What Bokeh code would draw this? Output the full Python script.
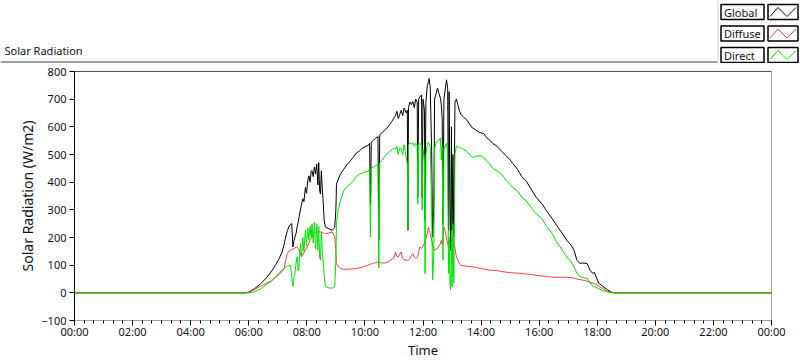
from bokeh.plotting import figure
from bokeh.layouts import column
from bokeh.models import ColumnDataSource, FixedTicker, Range1d, Span
from bokeh.core.properties import value
from bokeh.embed import file_html
from bokeh.resources import INLINE

# ---------------- data ----------------
hours = [0.0, 5.9, 6.0, 6.2, 6.4, 6.6, 6.8, 6.92, 7.05, 7.15, 7.22, 7.27, 7.33, 7.38, 7.44,
         7.48, 7.52, 7.56, 7.59, 7.63, 7.67, 7.7, 7.73, 7.78, 7.82, 7.86, 7.9, 7.95, 7.99,
         8.03, 8.07, 8.11, 8.15, 8.18, 8.22, 8.26, 8.3, 8.34, 8.38, 8.41, 8.44, 8.47, 8.5,
         8.53, 8.56, 8.6, 8.64, 8.75, 8.87, 8.96, 9.0, 9.02, 9.08, 9.16, 9.27, 9.4, 9.5,
         9.6, 9.7, 9.8, 9.9, 10.0, 10.1, 10.16, 10.19, 10.22, 10.3, 10.38, 10.45, 10.48,
         10.51, 10.6, 10.7, 10.8, 10.9, 11.0, 11.05, 11.1, 11.15, 11.2, 11.25, 11.3, 11.35,
         11.42, 11.46, 11.48, 11.5, 11.55, 11.6, 11.65, 11.7, 11.75, 11.8, 11.82, 11.85,
         11.9, 11.95, 11.97, 12.0, 12.05, 12.07, 12.1, 12.15, 12.19, 12.21, 12.25, 12.3,
         12.33, 12.37, 12.4, 12.45, 12.5, 12.55, 12.6, 12.63, 12.66, 12.69, 12.72, 12.77,
         12.81, 12.85, 12.88, 12.9, 12.93, 12.95, 12.98, 13.0, 13.03, 13.06, 13.1, 13.15,
         13.2, 13.25, 13.3, 13.4, 13.5, 13.6, 13.7, 13.8, 13.9, 14.0, 14.1, 14.2, 14.3,
         14.4, 14.55, 14.7, 14.85, 15.0, 15.1, 15.25, 15.4, 15.55, 15.75, 15.9, 16.1,
         16.25, 16.45, 16.6, 16.8, 16.95, 17.1, 17.2, 17.3, 17.4, 17.5, 17.65, 17.75,
         17.85, 17.9, 18.05, 18.2, 18.35, 18.5, 18.6, 24.0]

global_rad = [0, 0, 3, 15, 32, 53, 80, 100, 125, 148, 175, 202, 225, 238, 248,
              250, 166, 190, 202, 215, 240, 255, 273, 300, 320, 340, 330, 381, 360,
              405, 423, 400, 440, 441, 420, 455, 430, 465, 390, 471, 370, 357, 441,
              380, 333, 260, 238, 232, 226, 235, 300, 393, 410, 430, 447, 465, 477,
              490, 505, 512, 522, 528, 532, 540, 321, 545, 552, 560, 565, 190,
              572, 580, 590, 600, 615, 632, 640, 656, 630, 645, 660, 640, 668,
              650, 660, 226, 670, 690, 680, 692, 670, 700, 690, 345, 700,
              710, 715, 345, 700, 660, 262, 690, 750, 763, 775, 740, 502,
              202, 300, 700, 720, 740, 720, 704, 680, 630, 250, 700, 740,
              770, 740, 226, 727, 300, 154, 600, 226, 500, 202, 690, 700,
              680, 660, 645, 635, 626, 610, 596, 590, 582, 578, 575, 560, 552,
              540, 530, 512, 497, 480, 467, 447, 420, 405, 370, 345, 321,
              297, 268, 244, 214, 190, 172, 154, 118, 106, 108, 106, 82,
              70, 74, 35, 23, 11, 2, 0, 0]

diffuse_rad = [0, 0, 2, 12, 24, 34, 44, 56, 66, 78, 90, 118, 142, 150, 154,
               156, 158, 160, 162, 165, 166, 160, 154, 140, 132, 135, 145, 154, 160,
               170, 178, 190, 196, 202, 210, 215, 218, 220, 220, 220, 220, 220, 220,
               218, 216, 215, 214, 216, 220, 202, 150, 106, 95, 88, 85, 85, 86,
               87, 88, 90, 93, 96, 100, 103, 104, 104, 106, 110, 112, 112,
               110, 108, 108, 112, 120, 126, 148, 132, 130, 140, 148, 125, 120,
               118, 117, 116, 118, 125, 135, 142, 130, 124, 128, 130, 150,
               166, 160, 162, 170, 180, 190, 195, 215, 238, 225, 214, 190,
               172, 160, 154, 158, 160, 170, 177, 190, 175, 190, 238, 220,
               200, 175, 185, 190, 180, 175, 185, 190, 200, 185, 160, 130,
               118, 105, 100, 98, 96, 95, 94, 92, 90, 88, 86, 84, 82,
               81, 80, 77, 75, 73, 72, 71, 70, 68, 66, 63, 61,
               59, 57, 56, 56, 56, 55, 53, 50, 48, 46, 42, 38,
               35, 33, 25, 15, 6, 1, 0, 0]

direct_rad = [0, 0, 0, 4, 14, 29, 45, 58, 72, 82, 88, 92, 96, 98, 100,
              60, 23, 60, 70, 110, 130, 80, 94, 178, 130, 200, 150, 226, 170,
              235, 190, 240, 200, 250, 180, 255, 160, 250, 154, 240, 130, 118, 220,
              150, 118, 60, 23, 18, 17, 22, 120, 250, 300, 333, 369, 385, 393,
              405, 420, 428, 433, 437, 440, 445, 202, 450, 455, 460, 465, 90,
              471, 480, 495, 506, 515, 524, 520, 530, 500, 523, 520, 500, 535,
              490, 468, 226, 535, 540, 538, 543, 530, 540, 535, 321, 540,
              538, 535, 300, 520, 480, 70, 500, 538, 545, 540, 530, 300,
              47, 130, 520, 545, 548, 550, 560, 480, 530, 118, 520, 530,
              540, 500, 70, 200, 30, 11, 226, 23, 250, 35, 500, 530,
              528, 526, 524, 518, 512, 500, 489, 493, 495, 495, 488, 475, 465,
              450, 441, 429, 408, 392, 380, 369, 345, 333, 305, 286, 268,
              240, 214, 184, 154, 130, 112, 95, 70, 60, 55, 52, 36,
              25, 22, 15, 8, 3, 0, 0, 0]

x_tick_values = [0, 2, 4, 6, 8, 10, 12, 14, 16, 18, 20, 22, 24]
x_tick_labels = ["00:00", "02:00", "04:00", "06:00", "08:00", "10:00", "12:00",
                 "14:00", "16:00", "18:00", "20:00", "22:00", "00:00"]
y_tick_values = [-100, 0, 100, 200, 300, 400, 500, 600, 700, 800]
series_names = ["Global", "Diffuse", "Direct"]
series_keys = ["global_rad", "diffuse_rad", "direct_rad"]
series_colors = ["#000000", "#ff4040", "#00e000"]
chart_title = "Solar Radiation"

# ---------------- layout constants ----------------
W = 800
HDR_H = 63
MAIN_H = 298
FONT = "Noto Sans"
TXT = "#101018"

# ---------------- header: title + LabVIEW-style legend ----------------
hdr = figure(width=W, height=HDR_H, output_backend="svg", toolbar_location=None,
             title=None, x_range=Range1d(0, W), y_range=Range1d(HDR_H, 0),
             min_border=0, x_axis_type=None, y_axis_type=None)
hdr.frame_align = False
hdr.outline_line_color = None
hdr.grid.visible = False
hdr.background_fill_color = "white"
hdr.border_fill_color = "white"

# top edge of the chart panel
hdr.segment(x0=[0], y0=[61.5], x1=[717], y1=[61.5], line_color="#a0a0a0", line_width=2)
hdr.text(x=[4], y=[50], text=[chart_title], text_font=value(FONT),
         text_font_size=value("11px"), text_color=TXT,
         text_baseline="middle", text_align="left")

# legend panel
hdr.quad(left=[717.5], right=[W + 2], top=[-2], bottom=[HDR_H - 0.5],
         fill_color="white", line_color="#d0d0d0", line_width=1)
row_tops = [4, 25.5, 47]
box_h = 15
name_l, name_r = 720.5, 763.5
glyph_l, glyph_r = 767.5, 797.5
hdr.quad(left=[name_l] * 3, right=[name_r] * 3, top=row_tops,
         bottom=[t + box_h for t in row_tops], fill_color="white",
         line_color="black", line_width=1.5)
hdr.quad(left=[glyph_l] * 3, right=[glyph_r] * 3, top=row_tops,
         bottom=[t + box_h for t in row_tops], fill_color="white",
         line_color="black", line_width=1.5)
hdr.text(x=[name_l + 3] * 3, y=[t + box_h / 2 for t in row_tops], text=series_names,
         text_font=value(FONT), text_font_size=value("11px"), text_color=TXT,
         text_baseline="middle", text_align="left")
zig_xs = [[glyph_l + 2, glyph_l + 10, glyph_l + 19, glyph_l + 28] for _ in row_tops]
zig_ys = [[t + 12, t + 3, t + 12, t + 3] for t in row_tops]
hdr.multi_line(xs=zig_xs, ys=zig_ys, line_color=series_colors, line_width=1)

# ---------------- main chart ----------------
src = ColumnDataSource(dict(hours=hours, global_rad=global_rad,
                            diffuse_rad=diffuse_rad, direct_rad=direct_rad))

p = figure(width=W, height=MAIN_H, output_backend="svg", toolbar_location=None,
           title=None, x_range=Range1d(0, 24), y_range=Range1d(-100, 800),
           min_border_left=74, min_border_right=29, min_border_top=8,
           min_border_bottom=39)
p.frame_align = False
p.background_fill_color = "white"
p.border_fill_color = "white"
p.outline_line_color = "#a0a0a0"
p.xgrid.visible = False
p.ygrid.visible = False

for key, color in zip(series_keys, series_colors):
    p.line("hours", key, source=src, line_color=color, line_width=1)

p.add_layout(Span(location=800, dimension="width", line_color="black", line_width=1))

minor_x = [i / 3 for i in range(73)]
p.xaxis.ticker = FixedTicker(ticks=x_tick_values, minor_ticks=minor_x)
p.xaxis.major_label_overrides = {v: t for v, t in zip(x_tick_values, x_tick_labels)}
p.yaxis.ticker = FixedTicker(ticks=y_tick_values, minor_ticks=[])

for ax in (p.xaxis, p.yaxis):
    ax.major_label_text_font = FONT
    ax.major_label_text_font_size = "11px"
    ax.major_label_text_color = TXT
    ax.axis_label_text_font = FONT
    ax.axis_label_text_font_style = "normal"
    ax.axis_label_text_color = TXT
    ax.major_tick_in = 0
    ax.major_tick_out = 5
    ax.major_tick_line_color = "black"

p.xaxis.axis_label = "Time"
p.xaxis.axis_label_text_font_size = "13px"
p.xaxis.axis_line_color = "#a0a0a0"
p.xaxis.minor_tick_in = 0
p.xaxis.minor_tick_out = 3
p.xaxis.minor_tick_line_color = "black"
p.xaxis.major_label_standoff = -2
p.xaxis.axis_label_standoff = -1

p.yaxis.axis_label = "Solar Radiation (W/m2)"
p.yaxis.axis_label_text_font_size = "14px"
p.yaxis.axis_line_color = "black"
p.yaxis.minor_tick_line_color = None
p.yaxis.major_label_standoff = 3
p.yaxis.axis_label_standoff = 1

layout = column(hdr, p, spacing=0)
open("out.html", "w").write(file_html(layout, INLINE))
